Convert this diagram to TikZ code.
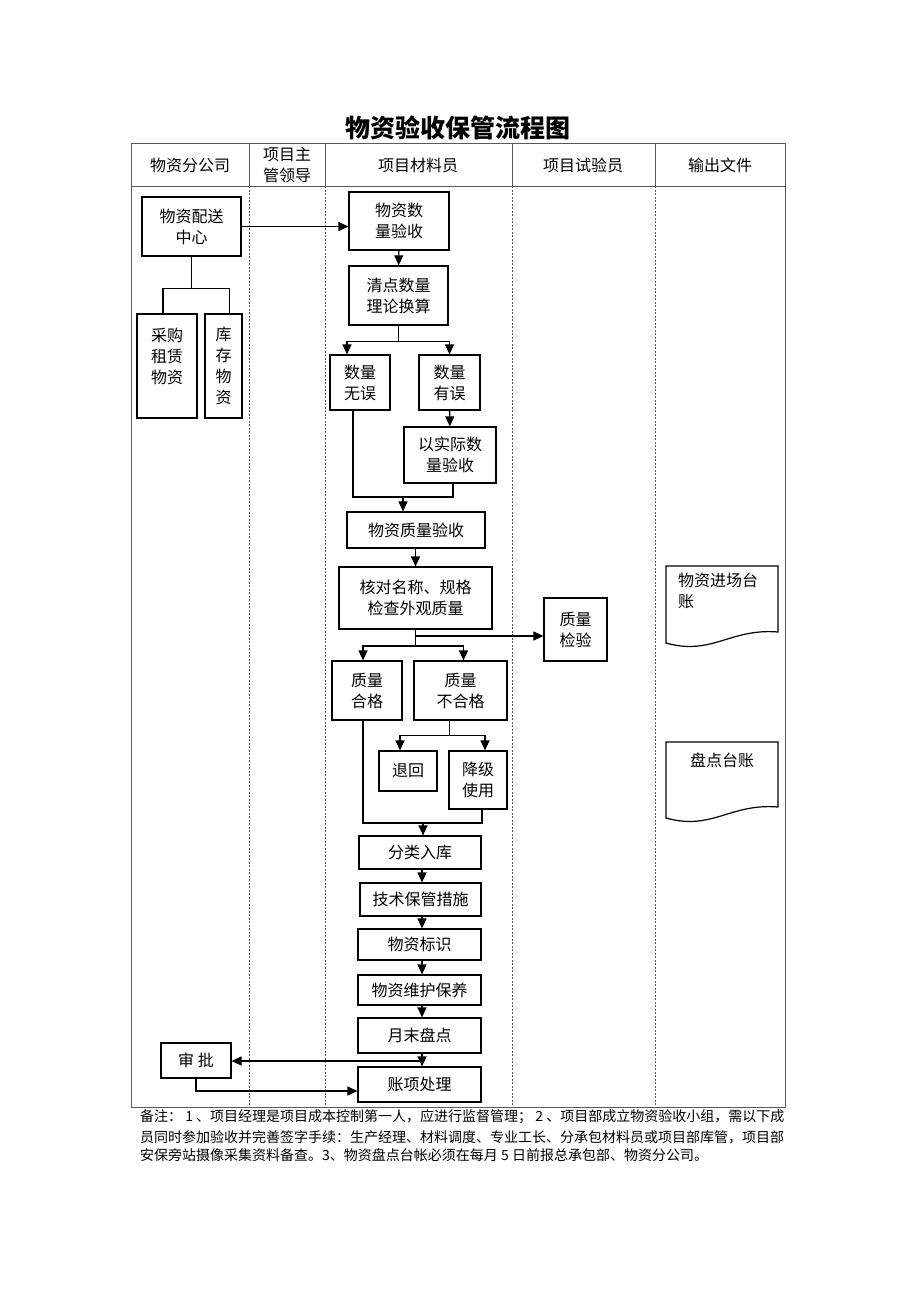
\documentclass[tikz,border=0pt]{standalone}
\usepackage{fontspec}
\setmainfont{Noto Sans CJK SC}
\usetikzlibrary{arrows.meta,positioning}

\begin{document}
\begin{tikzpicture}[x=1pt,y=-1pt,
	box/.style={draw,line width=1.2pt,align=center,inner sep=2pt,font=\fontsize{16}{21}\selectfont},
	txt/.style={align=center,inner sep=0pt,font=\fontsize{16}{21}\selectfont},
	arr/.style={-{Triangle[length=10pt,width=9pt]},line width=1.2pt},
	con/.style={line width=1.2pt},
	lane/.style={gray!70!black,line width=0.8pt,dash pattern=on 2pt off 1.5pt},
	frame/.style={gray!70!black,line width=1pt}]
		\useasboundingbox (0,0) rectangle (920,1302);
		% title and lanes
		\node[font=\fontsize{25}{25}\selectfont\bfseries] (title) at (458,128) {物资验收保管流程图};
		\draw[frame] (131,143) rectangle (785,1107);
		\draw[frame] (131,186) -- (785,186);
		\foreach \x in {249,325,512,655}{
			\draw[frame] (\x,143) -- (\x,186);
			\draw[lane] (\x,186) -- (\x,1107);
		}
		\node[txt] (hd1) at (190,165) {物资分公司};
		\node[txt] (hd2) at (287,165) {项目主\\管领导};
		\node[txt] (hd3) at (418,165) {项目材料员};
		\node[txt] (hd4) at (583,165) {项目试验员};
		\node[txt] (hd5) at (720,165) {输出文件};
		
		% company column
		\node[box,minimum width=99pt,minimum height=59pt] (peisong) at (191.5,226.5) {物资配送\\中心};
		\node[box,minimum width=60pt,minimum height=104pt] (caigou) at (167,366) {采购\\租赁\\物资\\ };
		\node[box,minimum width=37pt,minimum height=104pt] (kucun) at (223.5,366) {库\\存\\物\\资};
		\node[box,minimum width=70pt,minimum height=35pt] (shenpi) at (196,1060.5) {审 批};
		
		% material clerk column
		\node[box,minimum width=100pt,minimum height=58pt] (shuliang) at (399,221) {物资数\\量验收};
		\node[box,minimum width=99pt,minimum height=59pt] (qingdian) at (398.5,295.5) {清点数量\\理论换算};
		\node[box,minimum width=60pt,minimum height=55pt] (wuwu) at (360,382.5) {数量\\无误};
		\node[box,minimum width=61pt,minimum height=55pt] (youwu) at (449.5,382.5) {数量\\有误};
		\node[box,minimum width=92pt,minimum height=56pt] (shiji) at (450,455) {以实际数\\量验收};
		\node[box,minimum width=138pt,minimum height=36pt] (zhiliang) at (416,530) {物资质量验收};
		\node[box,minimum width=153pt,minimum height=62pt] (hedui) at (415.5,598) {核对名称、规格\\检查外观质量};
		\node[box,minimum width=70pt,minimum height=59pt] (hege) at (367,690.5) {质量\\合格};
		\node[box,minimum width=93pt,minimum height=59pt] (buhege) at (460.5,690.5) {质量\\不合格};
		\node[box,minimum width=58pt,minimum height=40pt] (tuihui) at (408,771) {退回};
		\node[box,minimum width=58pt,minimum height=58pt] (jiangji) at (478,780) {降级\\使用};
		\node[box,minimum width=122pt,minimum height=33pt] (fenlei) at (420,852.5) {分类入库};
		\node[box,minimum width=121pt,minimum height=33pt] (jishu) at (420.5,899.5) {技术保管措施};
		\node[box,minimum width=123pt,minimum height=31pt] (biaoshi) at (419.5,944.5) {物资标识};
		\node[box,minimum width=123pt,minimum height=30pt] (weihu) at (419.5,990) {物资维护保养};
		\node[box,minimum width=123pt,minimum height=35pt] (yuemo) at (419.5,1035.5) {月末盘点};
		\node[box,minimum width=123pt,minimum height=35pt] (zhangxiang) at (419.5,1084.5) {账项处理};
		
		% tester column
		\node[box,minimum width=63pt,minimum height=63pt] (jianyan) at (575.5,629.5) {质量\\检验};
		
		% output documents
		\draw[con] (666,566) -- (778,566) -- (778,632) .. controls (730,628) and (712,656) .. (666,643) -- cycle;
		\node[txt,anchor=north west,align=left] (taizhang) at (678,573) {物资进场台\\账};
		\draw[con] (666,742) -- (778,742) -- (778,807) .. controls (730,803) and (712,831) .. (666,818) -- cycle;
		\node[txt] (pandian) at (722,760) {盘点台账};
		
		% connectors
		\draw[arr] (peisong.east) -- (peisong.east -| shuliang.west);
		\draw[con] (peisong.south) -- ++(0,32) coordinate (f1);
		\draw[con] ([xshift=-4pt]caigou.north) |- (f1) -| ([xshift=6pt]kucun.north);
		\draw[arr] (shuliang) -- (qingdian);
		\draw[con] (qingdian.south) -- ++(0,16) coordinate (f2);
		\draw[arr] (f2) -| ([xshift=-13pt]wuwu.north);
		\draw[arr] (f2) -| (youwu.north);
		\draw[arr] (youwu) -- (shiji);
		\coordinate (m1) at (403,497);
		\draw[con] ([xshift=-7pt]wuwu.south) |- (m1) -| ([xshift=3pt]shiji.south);
		\draw[arr] (m1) -- (m1 |- zhiliang.north);
		\draw[arr] (zhiliang.south -| hedui) -- (hedui.north);
		\coordinate (f3) at (415.5,636);
		\draw[con] (hedui.south) -- (415.5,646) coordinate (f4);
		\draw[arr] (f3) -- (f3 -| jianyan.west);
		\draw[arr] (f4) -| ([xshift=-4pt]hege.north);
		\draw[arr] (f4) -| ([xshift=3pt]buhege.north);
		\draw[con] ([xshift=-11pt]buhege.south) -- ++(0,15) coordinate (f5);
		\draw[arr] (f5) -| ([xshift=-8pt]tuihui.north);
		\draw[arr] (f5) -| ([xshift=7pt]jiangji.north);
		\coordinate (m2) at (423,823);
		\draw[con] ([xshift=-4pt]hege.south) |- (m2) -| ([xshift=4pt]jiangji.south);
		\draw[arr] (m2) -- (m2 |- fenlei.north);
		\draw[arr] (fenlei.south -| 422,0) -- (jishu.north -| 422,0);
		\draw[arr] (jishu.south -| 422,0) -- (biaoshi.north -| 422,0);
		\draw[arr] (biaoshi.south -| 422,0) -- (weihu.north -| 422,0);
		\draw[arr] (weihu.south -| 422,0) -- (yuemo.north -| 422,0);
		\draw[arr] (yuemo.south -| 422,0) -- (zhangxiang.north -| 422,0);
		\coordinate (m3) at (422,1061);
		\draw[arr] (m3) -- (m3 -| shenpi.east);
		\draw[arr] (shenpi.south) |- (zhangxiang.west |- 0,1091);
		
		% note
		\node[anchor=west,inner sep=0pt,font=\fontsize{14}{14}\selectfont] (note1) at (140,1117) {备注： 1 、项目经理是项目成本控制第一人，应进行监督管理； 2 、项目部成立物资验收小组，需以下成};
		\node[anchor=west,inner sep=0pt,font=\fontsize{14}{14}\selectfont] (note2) at (140,1137) {员同时参加验收并完善签字手续：生产经理、材料调度、专业工长、分承包材料员或项目部库管，项目部};
		\node[anchor=west,inner sep=0pt,font=\fontsize{14}{14}\selectfont] (note3) at (140,1155) {安保旁站摄像采集资料备查。3、物资盘点台帐必须在每月 5 日前报总承包部、物资分公司。};
		
	\end{tikzpicture}
\end{document}
